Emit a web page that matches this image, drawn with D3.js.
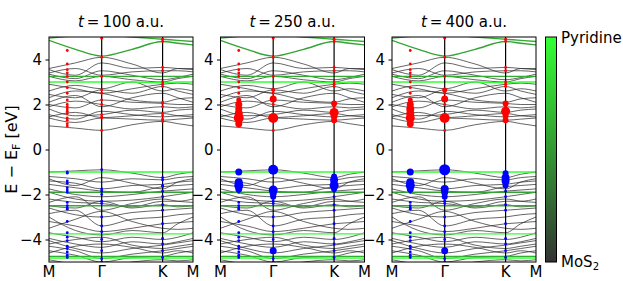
<!DOCTYPE html>
<html>
<head>
<meta charset="utf-8">
<script src="https://cdn.jsdelivr.net/npm/d3@7"></script>
<style>
  body { margin: 0; background: #fff; }
  text { font-family: "DejaVu Sans", sans-serif; fill: #000; }
</style>
</head>
<body>
<div id="chart"></div>
<script>
// high-symmetry path M - Γ - K - M (lengths in units of 2π/a)
const kLabels = ["M", "Γ", "K", "M"];
const kTicks = [0, 0.577, 1.244, 1.577];
// sample points along the path where band energies were read
const kSamples = [0, 0.29, 0.577, 0.91, 1.244, 1.41, 1.577];
const yTicks = [-4, -2, 0, 2, 4];
const titles = ["100", "250", "400"];

// MoS2-like bands (eV), one value per k sample
const mosBands = [
  [1.05, 0.95, 0.85, 1.1, 1.25, 1.15, 1.05],
  [1.4, 1.2, 1.4, 1.35, 1.3, 1.35, 1.4],
  [1.45, 1.65, 1.42, 1.5, 1.6, 1.5, 1.45],
  [1.55, 1.35, 1.7, 1.55, 1.45, 1.5, 1.55],
  [1.8, 1.5, 1.55, 1.75, 1.65, 1.75, 1.8],
  [1.9, 2.15, 2.0, 1.8, 1.9, 1.85, 1.9],
  [2.0, 1.85, 2.2, 2.1, 2.05, 2.0, 2.0],
  [2.1, 2.4, 1.9, 2.3, 2.5, 2.3, 2.1],
  [2.3, 2.6, 2.5, 2.2, 2.1, 2.25, 2.3],
  [2.45, 2.3, 2.65, 2.5, 2.8, 2.6, 2.45],
  [2.6, 2.85, 2.7, 3.0, 2.6, 2.7, 2.6],
  [2.9, 2.7, 2.5, 2.7, 2.9, 2.95, 2.9],
  [3.25, 3.05, 3.25, 3.1, 3.0, 3.15, 3.25],
  [3.35, 3.15, 3.5, 3.3, 3.1, 3.2, 3.35],
  [3.4, 3.6, 3.3, 3.45, 3.5, 3.5, 3.45],
  [3.55, 3.3, 3.85, 3.6, 3.65, 3.6, 3.55],
  [3.6, 3.85, 4.1, 3.8, 3.4, 3.6, 3.6],
  [-1.0, -0.95, -0.9, -1.05, -1.25, -1.1, -1.0],
  [-1.2, -1.3, -1.45, -1.3, -1.35, -1.25, -1.2],
  [-1.3, -1.6, -1.25, -1.5, -1.75, -1.45, -1.3],
  [-1.4, -1.5, -1.75, -1.6, -1.55, -1.45, -1.4],
  [-1.55, -1.7, -1.85, -1.9, -1.65, -1.6, -1.55],
  [-1.75, -2.0, -2.1, -2.0, -1.85, -1.8, -1.75],
  [-1.9, -2.2, -2.3, -2.25, -2.1, -2.0, -1.9],
  [-2.2, -2.35, -2.4, -2.55, -2.3, -2.3, -2.2],
  [-2.35, -2.1, -2.7, -2.4, -2.2, -2.3, -2.35],
  [-2.5, -2.6, -2.3, -2.6, -2.45, -2.55, -2.5],
  [-2.6, -2.9, -3.0, -2.8, -2.7, -2.65, -2.6],
  [-2.85, -2.7, -3.4, -3.1, -3.0, -2.9, -2.85],
  [-3.5, -3.1, -2.75, -3.2, -3.5, -3.55, -3.5],
  [-3.2, -3.4, -3.65, -3.5, -3.3, -3.25, -3.2],
  [-3.0, -3.6, -3.8, -3.6, -3.7, -3.3, -3.0],
  [-3.7, -3.9, -4.1, -3.9, -4.0, -3.9, -3.7],
  [-3.95, -4.2, -4.35, -4.1, -4.2, -4.1, -3.95],
  [-4.2, -4.0, -3.9, -4.25, -4.4, -4.3, -4.2],
  [-4.05, -4.4, -4.6, -4.4, -4.25, -4.15, -4.05],
  [-4.6, -4.3, -4.2, -4.35, -4.6, -4.5, -4.6],
  [-4.3, -4.5, -4.85, -4.65, -4.5, -4.4, -4.3],
  [-4.5, -4.7, -5.0, -4.8, -4.75, -4.6, -4.5],
  [-4.9, -5.1, -5.2, -5.0, -4.9, -4.95, -4.9]
];

// pyridine-like bands and their pyridine weight (0 = MoS2, 1 = pyridine)
const pyrBands = [
  [4.95, 5.05, 5.1, 5.0, 4.9, 4.85, 4.8],
  [4.85, 4.45, 4.15, 4.45, 4.8, 4.72, 4.65],
  [3.25, 3.25, 3.25, 3.25, 3.25, 3.25, 3.25],
  [3.0, 3.0, 3.0, 3.0, 2.97, 3.0, 3.0],
  [-1.0, -1.0, -1.0, -1.0, -1.0, -1.0, -1.0],
  [-1.9, -1.9, -1.9, -1.9, -1.9, -1.9, -1.9],
  [-2.5, -2.5, -2.5, -2.5, -2.5, -2.5, -2.5],
  [-3.75, -3.75, -3.75, -3.75, -3.75, -3.75, -3.75],
  [-4.75, -4.75, -4.75, -4.75, -4.75, -4.75, -4.75],
  [-4.82, -4.82, -4.82, -4.82, -4.82, -4.82, -4.82]
];
const pyrWeights = [0.6, 0.55, 0.6, 1.0, 1.0, 0.55, 0.6, 1.0, 0.6, 1.0];

// projected dots: k position of each column
const dotCols = [0.2, 0.577, 1.244];
// conduction (red) and valence (blue) energies on each column
const redE = [
  [1.05, 1.15, 1.3, 1.4, 1.6, 1.7, 1.8, 1.9, 2.0, 2.2, 2.5, 2.75, 3.0, 3.25, 3.4, 3.55, 3.8, 4.4],
  [0.85, 1.4, 1.45, 1.55, 2.0, 2.2, 2.5, 2.65, 3.25, 4.1, 4.95],
  [1.25, 1.35, 1.5, 1.6, 1.9, 2.05, 2.1, 2.8, 2.9, 3.0, 3.5, 3.65, 4.8, 4.9]
];
const blueE = [
  [-1.0, -1.05, -1.4, -1.5, -1.7, -1.8, -1.9, -2.35, -2.5, -2.6, -2.65, -3.2, -3.7, -3.9, -4.05, -4.3, -4.4, -4.55, -4.7, -4.8],
  [-0.9, -1.75, -1.85, -2.0, -2.3, -2.4, -3.0, -3.4, -3.65, -4.0, -4.5, -4.85, -5.0],
  [-1.25, -1.35, -1.6, -1.65, -1.85, -2.1, -2.45, -2.7, -3.3, -3.95, -4.2, -4.5, -4.8]
];
// large dots per panel: [column, energy, radius]
const bigDots = [
  [],
  [[0, 1.15, 3.5], [0, 1.4, 5], [0, 1.6, 4], [0, 1.8, 3.5], [0, 2.0, 3.5], [0, 2.2, 2.5],
   [1, 1.4, 5], [1, 2.25, 3.5], [1, 2.65, 2],
   [2, 1.3, 3], [2, 1.5, 3.5], [2, 1.65, 4.5], [2, 2.05, 3],
   [0, -1.0, 3.5], [0, -1.45, 4], [0, -1.6, 4.5], [0, -1.75, 3.5],
   [1, -0.9, 5], [1, -1.8, 4.5], [1, -1.95, 3.5], [1, -2.1, 3], [1, -4.5, 3.5],
   [2, -1.2, 3], [2, -1.35, 4], [2, -1.6, 4.5], [2, -1.75, 3]],
  [[0, 1.15, 3.5], [0, 1.4, 4.5], [0, 1.6, 4], [0, 1.8, 4], [0, 2.0, 3.5], [0, 2.2, 2.5],
   [1, 1.4, 5], [1, 2.25, 3.5], [1, 2.65, 2.5],
   [2, 1.3, 3], [2, 1.5, 3], [2, 1.7, 4.5], [2, 2.05, 3],
   [0, -1.0, 3.5], [0, -1.45, 4], [0, -1.6, 4.5], [0, -1.75, 3.5],
   [1, -0.9, 5.5], [1, -1.75, 4], [1, -1.9, 3.5], [1, -2.1, 3], [1, -4.5, 3.5],
   [2, -1.05, 3], [2, -1.25, 4], [2, -1.4, 4], [2, -1.6, 3]]
];

const width = 623, height = 281;
const panelX = [49, 220.5, 392];
const pw = 144, plotTop = 37, plotBottom = 262;

const svg = d3.select("#chart").append("svg")
  .attr("width", width)
  .attr("height", height);

const color = d3.interpolateRgb("#333333", "#33ff33");
const x = d3.scaleLinear().domain([0, kTicks[3]]).range([0, pw]);
const y = d3.scaleLinear().domain([-5, 5]).range([plotBottom, plotTop]);
const line = d3.line()
  .x((d, i) => x(kSamples[i]))
  .y(d => y(d))
  .curve(d3.curveMonotoneX);

titles.forEach((t, p) => {
  const g = svg.append("g").attr("transform", "translate(" + panelX[p] + ",0)");

  g.append("clipPath").attr("id", "clip" + p)
    .append("rect").attr("x", 0).attr("y", plotTop).attr("width", pw).attr("height", plotBottom - plotTop);

  const plot = g.append("g").attr("clip-path", "url(#clip" + p + ")");

  plot.selectAll(".band")
    .data(mosBands)
    .enter().append("path")
    .attr("d", line)
    .attr("fill", "none")
    .attr("stroke", "#2a2a2a")
    .attr("stroke-opacity", 0.8)
    .attr("stroke-width", 0.9);

  plot.selectAll(".pyr")
    .data(pyrBands)
    .enter().append("path")
    .attr("d", line)
    .attr("fill", "none")
    .attr("stroke", (d, i) => color(pyrWeights[i]))
    .attr("stroke-width", 1.4);

  // vertical lines at Γ and K
  plot.selectAll(".vl")
    .data([kTicks[1], kTicks[2]])
    .enter().append("line")
    .attr("x1", d => x(d)).attr("x2", d => x(d))
    .attr("y1", plotTop).attr("y2", plotBottom)
    .attr("stroke", "#000")
    .attr("stroke-width", 1.2);

  const small = [];
  redE.forEach((col, c) => col.forEach(e => small.push({ c: c, e: e, fill: "#ff0000" })));
  blueE.forEach((col, c) => col.forEach(e => small.push({ c: c, e: e, fill: "#0000ff" })));
  plot.selectAll(".dot")
    .data(small)
    .enter().append("circle")
    .attr("cx", d => x(dotCols[d.c]))
    .attr("cy", d => y(d.e))
    .attr("r", 1.4)
    .attr("fill", d => d.fill);

  plot.selectAll(".big")
    .data(bigDots[p])
    .enter().append("circle")
    .attr("cx", d => x(dotCols[d[0]]))
    .attr("cy", d => y(d[1]))
    .attr("r", d => d[2])
    .attr("fill", d => d[1] > 0 ? "#ff0000" : "#0000ff");

  g.append("rect")
    .attr("x", 0).attr("y", plotTop)
    .attr("width", pw).attr("height", plotBottom - plotTop)
    .attr("fill", "none")
    .attr("stroke", "#000")
    .attr("stroke-width", 1);

  const ya = g.append("g")
    .call(d3.axisLeft(y).tickValues(yTicks).tickSize(3.5).tickPadding(3.5)
      .tickFormat(d => d < 0 ? "\u2212" + Math.abs(d) : d));
  ya.select(".domain").remove();
  ya.selectAll("text").style("font-size", "15px").style("font-family", "DejaVu Sans");
  ya.selectAll("line").attr("stroke-width", 1);

  g.selectAll(".xl")
    .data(kTicks)
    .enter().append("text")
    .attr("x", d => x(d))
    .attr("y", 277)
    .attr("text-anchor", "middle")
    .style("font-size", "15px")
    .text((d, i) => kLabels[i]);

  const title = g.append("text")
    .attr("x", pw / 2)
    .attr("y", 27)
    .attr("text-anchor", "middle")
    .style("font-size", "15px");
  title.append("tspan").style("font-style", "italic").text("t");
  title.append("tspan").text("\u2009=\u2009" + t + " a.u.");
});

// y label
const yl = svg.append("text")
  .attr("transform", "translate(17," + y(0) + ") rotate(-90)")
  .attr("text-anchor", "middle")
  .style("font-size", "16px");
yl.append("tspan").text("E \u2212 E");
yl.append("tspan").attr("dy", 3).style("font-size", "11px").text("F");
yl.append("tspan").attr("dy", -3).text(" [eV]");

// colorbar
const defs = svg.append("defs");
const grad = defs.append("linearGradient").attr("id", "cbar")
  .attr("x1", 0).attr("y1", 1).attr("x2", 0).attr("y2", 0);
d3.range(0, 1.01, 0.25).forEach(s => {
  grad.append("stop").attr("offset", s).attr("stop-color", color(s));
});
svg.append("rect")
  .attr("x", 545.5).attr("y", plotTop)
  .attr("width", 11).attr("height", plotBottom - plotTop)
  .attr("fill", "url(#cbar)")
  .attr("stroke", "#000")
  .attr("stroke-width", 1);

svg.append("text")
  .attr("x", 561).attr("y", 43)
  .style("font-size", "15px")
  .text("Pyridine");
const ml = svg.append("text")
  .attr("x", 561).attr("y", 267)
  .style("font-size", "15px");
ml.append("tspan").text("MoS");
ml.append("tspan").attr("dy", 3).style("font-size", "10px").text("2");
</script>
</body>
</html>
